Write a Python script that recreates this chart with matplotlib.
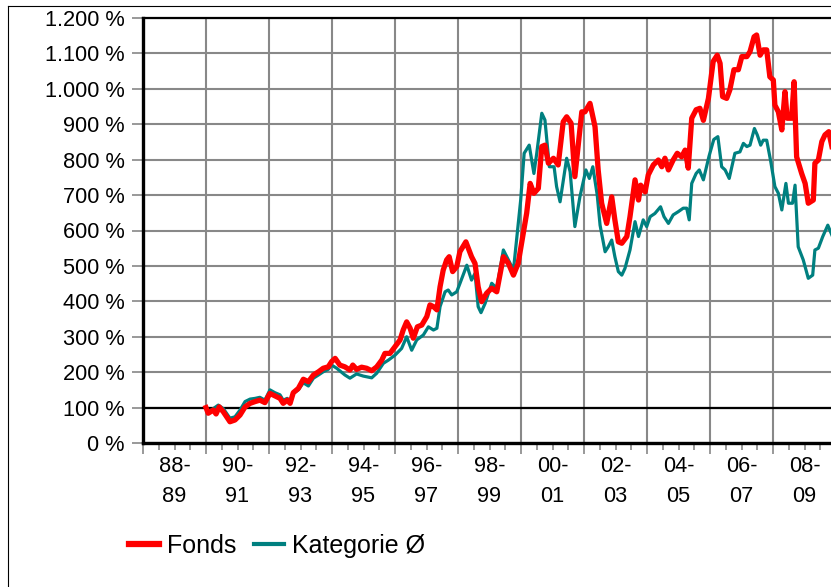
import matplotlib
matplotlib.use("Agg")
import matplotlib.pyplot as plt
from matplotlib.ticker import FuncFormatter, MultipleLocator
from matplotlib.lines import Line2D
import matplotlib.transforms as mtransforms

plt.rcParams['font.family'] = ['Liberation Sans', 'DejaVu Sans']

# ---- data (decimal years, value in %) ----
fonds_dates = [
    1990.00, 1990.07, 1990.23, 1990.32, 1990.42, 1990.55, 1990.76, 1990.92,
    1991.08, 1991.24, 1991.40, 1991.56, 1991.71, 1991.87, 1992.03, 1992.19,
    1992.35, 1992.45, 1992.58, 1992.67, 1992.77, 1992.93, 1993.09, 1993.25,
    1993.41, 1993.57, 1993.72, 1993.88, 1993.99, 1994.10, 1994.25, 1994.41,
    1994.57, 1994.66, 1994.78, 1994.94, 1995.10, 1995.26, 1995.42, 1995.58,
    1995.68, 1995.84, 1996.00, 1996.16, 1996.26, 1996.37, 1996.48, 1996.58,
    1996.71, 1996.85, 1997.01, 1997.11, 1997.22, 1997.33, 1997.43, 1997.53,
    1997.64, 1997.72, 1997.83, 1997.96, 1998.06, 1998.25, 1998.43, 1998.54,
    1998.64, 1998.75, 1998.91, 1999.07, 1999.23, 1999.44, 1999.60, 1999.76,
    1999.91, 2000.07, 2000.18, 2000.29, 2000.41, 2000.55, 2000.66, 2000.76,
    2000.87, 2001.03, 2001.18, 2001.34, 2001.45, 2001.59, 2001.71, 2001.93,
    2002.03, 2002.19, 2002.35, 2002.45, 2002.56, 2002.72, 2002.88, 2002.98,
    2003.09, 2003.20, 2003.36, 2003.46, 2003.62, 2003.73, 2003.80, 2003.94,
    2004.04, 2004.20, 2004.36, 2004.47, 2004.57, 2004.68, 2004.83, 2004.96,
    2005.10, 2005.21, 2005.31, 2005.42, 2005.56, 2005.68, 2005.79, 2005.95,
    2006.10, 2006.23, 2006.32, 2006.40, 2006.53, 2006.63, 2006.76, 2006.90,
    2007.01, 2007.17, 2007.27, 2007.40, 2007.48, 2007.59, 2007.69, 2007.80,
    2007.90, 2008.01, 2008.06, 2008.17, 2008.28, 2008.38, 2008.45, 2008.59,
    2008.67, 2008.75, 2008.91, 2009.02, 2009.12, 2009.28, 2009.33, 2009.44,
    2009.55, 2009.65, 2009.77, 2009.87,
]
fonds_values = [
    100, 84, 93, 82, 102, 88, 60, 65,
    79, 102, 112, 117, 121, 114, 140, 133,
    126, 112, 121, 112, 142, 154, 180, 173,
    192, 201, 211, 215, 230, 239, 220, 215,
    206, 220, 208, 214, 211, 204, 215, 234,
    253, 253, 272, 291, 319, 342, 324, 296,
    328, 333, 357, 390, 385, 376, 441, 488,
    517, 526, 484, 498, 540, 568, 526, 507,
    441, 399, 423, 437, 427, 526, 507, 474,
    507, 592, 649, 733, 705, 719, 837, 841,
    790, 804, 785, 907, 921, 903, 752, 935,
    935, 959, 893, 771, 677, 620, 695, 630,
    568, 564, 583, 639, 743, 686, 728, 709,
    757, 785, 799, 780, 804, 771, 799, 818,
    808, 827, 776, 917, 941, 945, 911, 973,
    1077, 1095, 1072, 978, 973, 997, 1054, 1054,
    1091, 1091, 1105, 1147, 1152, 1095, 1110, 1110,
    1034, 1025, 954, 935, 884, 992, 917, 917,
    1020, 808, 761, 733, 677, 686, 790, 799,
    851, 870, 879, 837,
]

kategorie_dates = [
    1990.00, 1990.07, 1990.23, 1990.39, 1990.55, 1990.76, 1990.92, 1991.08,
    1991.24, 1991.40, 1991.56, 1991.71, 1991.87, 1992.03, 1992.19, 1992.35,
    1992.45, 1992.58, 1992.67, 1992.77, 1992.93, 1993.09, 1993.25, 1993.41,
    1993.57, 1993.72, 1993.88, 1993.99, 1994.15, 1994.41, 1994.57, 1994.78,
    1994.99, 1995.26, 1995.42, 1995.63, 1995.79, 1996.00, 1996.21, 1996.37,
    1996.53, 1996.69, 1996.90, 1997.06, 1997.22, 1997.33, 1997.43, 1997.59,
    1997.69, 1997.80, 1997.96, 1998.06, 1998.28, 1998.43, 1998.54, 1998.64,
    1998.73, 1998.86, 1999.07, 1999.23, 1999.44, 1999.60, 1999.76, 1999.88,
    1999.99, 2000.10, 2000.26, 2000.41, 2000.50, 2000.66, 2000.76, 2000.90,
    2001.05, 2001.13, 2001.24, 2001.45, 2001.56, 2001.71, 2001.87, 2002.06,
    2002.17, 2002.28, 2002.42, 2002.51, 2002.67, 2002.77, 2002.88, 2002.98,
    2003.09, 2003.20, 2003.30, 2003.46, 2003.62, 2003.73, 2003.88, 2003.99,
    2004.10, 2004.25, 2004.43, 2004.54, 2004.68, 2004.83, 2004.99, 2005.15,
    2005.26, 2005.34, 2005.42, 2005.56, 2005.66, 2005.79, 2005.97, 2006.12,
    2006.25, 2006.37, 2006.48, 2006.61, 2006.79, 2006.95, 2007.06, 2007.17,
    2007.27, 2007.41, 2007.50, 2007.61, 2007.69, 2007.80, 2007.93, 2008.06,
    2008.17, 2008.28, 2008.41, 2008.49, 2008.62, 2008.70, 2008.80, 2008.96,
    2009.12, 2009.26, 2009.33, 2009.44, 2009.58, 2009.74, 2009.87,
]
kategorie_values = [
    100, 88, 97, 107, 97, 70, 74, 93,
    117, 124, 126, 129, 121, 150, 142, 136,
    121, 126, 117, 140, 150, 170, 161, 183,
    192, 201, 208, 220, 211, 192, 183, 195,
    189, 184, 197, 225, 234, 248, 267, 300,
    262, 291, 305, 328, 319, 324, 385, 427,
    432, 418, 427, 450, 502, 460, 479, 385,
    368, 394, 451, 437, 545, 517, 488, 592,
    686, 818, 841, 761, 818, 931, 912, 780,
    780, 724, 681, 804, 766, 611, 695, 771,
    747, 780, 700, 615, 540, 554, 573, 526,
    484, 474, 493, 545, 625, 583, 630, 611,
    639, 648, 667, 639, 620, 644, 653, 663,
    663, 630, 733, 761, 771, 743, 810, 857,
    865, 780, 771, 747, 818, 822, 846, 837,
    841, 888, 870, 841, 855, 855, 794, 724,
    705, 658, 733, 677, 677, 728, 554, 517,
    465, 474, 545, 550, 583, 615, 587,
]

period_labels = ["88-\n89", "90-\n91", "92-\n93", "94-\n95", "96-\n97",
                 "98-\n99", "00-\n01", "02-\n03", "04-\n05", "06-\n07",
                 "08-\n09"]
period_starts = [1988, 1990, 1992, 1994, 1996, 1998, 2000, 2002, 2004, 2006, 2008]

# ---- figure ----
W, H = 831, 587
fig = plt.figure(figsize=(W / 100, H / 100), dpi=100)
fig.patch.set_facecolor('white')

# outer frame (top and left visible)
fig.add_artist(Line2D([8 / W, 8 / W], [0, 1 - 6 / H], transform=fig.transFigure,
                      color='#000000', lw=0.8))
fig.add_artist(Line2D([8 / W, 1], [1 - 6 / H, 1 - 6 / H], transform=fig.transFigure,
                      color='#000000', lw=0.8))

left = 143 / W
bottom = (H - 443) / H
top = (H - 18) / H
ax = fig.add_axes([left, bottom, (836 - 143) / W, top - bottom])

ax.set_xlim(1988, 2010)
ax.set_ylim(0, 1200)

grid_color = '#888888'
ax.set_axisbelow(True)
ax.yaxis.set_major_locator(MultipleLocator(100))
ax.xaxis.set_major_locator(MultipleLocator(2))
ax.xaxis.set_minor_locator(MultipleLocator(0.5))
ax.grid(True, which='major', color=grid_color, lw=1.5)

ax.axhline(100, color='black', lw=1.6, zorder=1.5)

ax.plot(kategorie_dates, kategorie_values, color='#008080', lw=2.3,
        label='Kategorie Ø', zorder=3, solid_joinstyle='round')
ax.plot(fonds_dates, fonds_values, color='#ff0000', lw=3.8,
        label='Fonds', zorder=4, solid_joinstyle='round')

ax.yaxis.set_major_formatter(FuncFormatter(
    lambda v, p: f"{v:,.0f} %".replace(',', '.')))
ax.set_xticklabels([])

for s in ['left', 'bottom']:
    ax.spines[s].set_color('black')
    ax.spines[s].set_linewidth(2.4)
ax.spines['top'].set_color('black')
ax.spines['top'].set_linewidth(1.6)
ax.spines['right'].set_visible(False)

tick_fs = 15.7
ax.tick_params(axis='y', which='major', length=8, width=1.2, color=grid_color,
               pad=5, labelsize=tick_fs, labelcolor='black')
ax.tick_params(axis='x', which='major', length=8, width=1.2, color=grid_color,
               labelbottom=False)
ax.tick_params(axis='x', which='minor', length=5, width=1.2, color=grid_color)

trans = mtransforms.blended_transform_factory(ax.transData, ax.transAxes)
for start, lab in zip(period_starts, period_labels):
    ax.text(start + 1, -0.03, lab, transform=trans, ha='center', va='top',
            fontsize=tick_fs, linespacing=1.6)

handles, labels = ax.get_legend_handles_labels()
order = [1, 0]
leg = fig.legend([handles[i] for i in order], [labels[i] for i in order],
                 loc='center', bbox_to_anchor=(277 / W, 1 - 546 / H), ncol=2,
                 frameon=False, fontsize=18, handlelength=1.2,
                 handletextpad=0.32, columnspacing=0.72)
leg.get_lines()[0].set_linewidth(4.5)
leg.get_lines()[1].set_linewidth(3.0)

fig.savefig('out.png', dpi=100)
